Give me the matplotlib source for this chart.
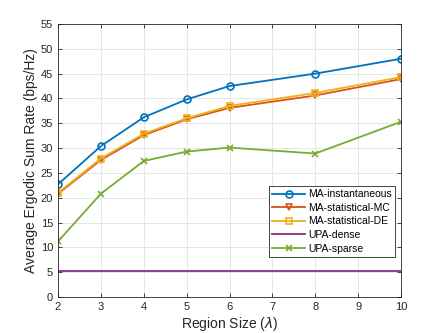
import numpy as np
import matplotlib
matplotlib.use("Agg")
import matplotlib.pyplot as plt

plt.rcParams['font.family'] = ['Liberation Sans', 'DejaVu Sans']

region = [2, 3, 4, 5, 6, 8, 10]
ma_inst = [22.7, 30.4, 36.2, 39.8, 42.5, 45.0, 48.0]
ma_mc = [20.8, 27.6, 32.6, 35.8, 38.1, 40.6, 43.9]
ma_de = [21.0, 27.9, 32.9, 36.0, 38.5, 41.1, 44.3]
upa_dense = [5.2, 5.2, 5.2, 5.2, 5.2, 5.2, 5.2]
upa_sparse = [11.2, 20.8, 27.4, 29.3, 30.1, 28.9, 35.3]

fig = plt.figure(figsize=(4.43, 3.33), dpi=100)
ax = fig.add_axes([58 / 443, 1 - 297 / 333, 343 / 443, 273 / 333])

ax.plot(region, ma_inst, color='#0072BD', marker='o', ms=5, mfc='none', mew=1.2, lw=1.3, label='MA-instantaneous')
ax.plot(region, ma_mc, color='#D95319', marker='v', ms=5, mfc='none', mew=1.2, lw=1.3, label='MA-statistical-MC')
ax.plot(region, ma_de, color='#EDB120', marker='s', ms=4, mfc='none', mew=1.2, lw=1.3, label='MA-statistical-DE')
ax.plot(region, upa_dense, color='#7E2F8E', lw=1.3, label='UPA-dense')
ax.plot(region, upa_sparse, color='#77AC30', marker='x', ms=4, mew=1.2, lw=1.3, label='UPA-sparse')

ax.set_xlim(2, 10)
ax.set_ylim(0, 55)
ax.set_xticks(range(2, 11))
ax.set_yticks(range(0, 56, 5))
ax.grid(True, color='#e6e6e6', lw=0.7)
ax.set_axisbelow(True)
for s in ax.spines.values():
    s.set_color('#262626')
    s.set_linewidth(0.6)
ax.tick_params(direction='in', length=3, width=0.6, labelsize=8, colors='#262626', top=True, right=True)
for lab in ax.get_xticklabels() + ax.get_yticklabels():
    lab.set_color('#262626')

ax.set_xlabel(r'Region Size ($\lambda$)', fontsize=10, color='#262626', labelpad=2)
ax.set_ylabel('Average Ergodic Sum Rate (bps/Hz)', fontsize=10, color='#262626', labelpad=2)

leg = ax.legend(loc='lower right', bbox_to_anchor=(0.983, 0.147), borderaxespad=0, fontsize=7.5,
                fancybox=False, edgecolor='#262626', framealpha=1, handlelength=3.2, borderpad=0.3,
                labelspacing=0.35, handletextpad=0.3)
leg.get_frame().set_linewidth(0.6)

fig.savefig('out.png', dpi=100)
